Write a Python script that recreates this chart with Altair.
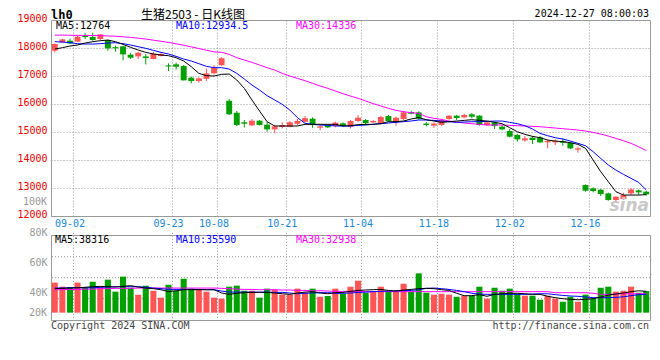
import altair as alt
import pandas as pd

# ---------------- data ----------------
dates = [
    "2024-08-29", "2024-08-30",
    "2024-09-02", "2024-09-03", "2024-09-04", "2024-09-05", "2024-09-06",
    "2024-09-09", "2024-09-10", "2024-09-11", "2024-09-12", "2024-09-13",
    "2024-09-18", "2024-09-19", "2024-09-20", "2024-09-23", "2024-09-24",
    "2024-09-25", "2024-09-26", "2024-09-27", "2024-09-30",
    "2024-10-08", "2024-10-09", "2024-10-10", "2024-10-11", "2024-10-14",
    "2024-10-15", "2024-10-16", "2024-10-17", "2024-10-18", "2024-10-21",
    "2024-10-22", "2024-10-23", "2024-10-24", "2024-10-25", "2024-10-28",
    "2024-10-29", "2024-10-30", "2024-10-31", "2024-11-01",
    "2024-11-04", "2024-11-05", "2024-11-06", "2024-11-07", "2024-11-08",
    "2024-11-11", "2024-11-12", "2024-11-13", "2024-11-14", "2024-11-15",
    "2024-11-18", "2024-11-19", "2024-11-20", "2024-11-21", "2024-11-22",
    "2024-11-25", "2024-11-26", "2024-11-27", "2024-11-28", "2024-11-29",
    "2024-12-02", "2024-12-03", "2024-12-04", "2024-12-05", "2024-12-06",
    "2024-12-09", "2024-12-10", "2024-12-11", "2024-12-12", "2024-12-13",
    "2024-12-16", "2024-12-17", "2024-12-18", "2024-12-19", "2024-12-20",
    "2024-12-23", "2024-12-24", "2024-12-25", "2024-12-26",
]
opens = [17904, 18201, 18260, 18225, 18430, 18392, 18320, 18284, 18030, 18058,
         17761, 17701, 17700, 17606, 17713, 17380, 17416, 17356, 16939, 16820,
         16900, 17094, 17380, 16118, 15690, 15344, 15237, 15404, 15261, 15094,
         15178, 15190, 15297, 15368, 15475, 15154, 15237, 15213, 15309, 15190,
         15392, 15427, 15344, 15309, 15570, 15344, 15463, 15713, 15700, 15300,
         15230, 15249, 15463, 15582, 15523, 15630, 15582, 15249, 15332, 15189,
         15035, 14892, 14701, 14796, 14808, 14630, 14630, 14677, 14618, 14368,
         13106, 12987, 12939, 12808, 12570, 12606, 12808, 12915, 12868]
highs = [18165, 18332, 18332, 18440, 18534, 18546, 18499, 18296, 18082, 18082,
         17820, 17856, 17785, 17868, 17844, 17451, 17475, 17392, 16975, 16951,
         17273, 17392, 17666, 16178, 15749, 15427, 15463, 15427, 15368, 15249,
         15344, 15392, 15463, 15570, 15523, 15237, 15273, 15368, 15344, 15427,
         15606, 15463, 15427, 15582, 15606, 15547, 15749, 15761, 15740, 15350,
         15340, 15460, 15600, 15606, 15654, 15677, 15606, 15370, 15370, 15249,
         15106, 14940, 14856, 14856, 14856, 14737, 14737, 14773, 14654, 14475,
         13130, 13023, 12963, 12832, 12713, 12832, 12987, 12951, 12903]
lows = [17844, 18189, 18141, 18213, 18320, 18260, 18273, 17904, 17868, 17558,
        17606, 17606, 17416, 17594, 17701, 17177, 17225, 16844, 16737, 16761,
        16820, 17059, 17368, 15606, 15213, 15166, 15213, 15237, 15011, 14951,
        15130, 15166, 15237, 15344, 15154, 15059, 15142, 15166, 15190, 15130,
        15356, 15249, 15320, 15273, 15368, 15225, 15427, 15630, 15440, 15200,
        15150, 15220, 15440, 15427, 15487, 15487, 15225, 15220, 15106, 15070,
        14808, 14654, 14654, 14570, 14606, 14415, 14535, 14510, 14392, 14260,
        12868, 12844, 12713, 12546, 12510, 12570, 12749, 12749, 12725]
closes = [18142, 18308, 18165, 18403, 18390, 18285, 18487, 17987, 17990, 17773,
          17654, 17832, 17640, 17796, 17785, 17340, 17332, 16844, 16820, 16915,
          17094, 17296, 17630, 15630, 15249, 15297, 15404, 15249, 15094, 15201,
          15249, 15344, 15392, 15487, 15285, 15201, 15166, 15332, 15213, 15392,
          15511, 15320, 15392, 15535, 15392, 15511, 15701, 15654, 15480, 15250,
          15300, 15427, 15582, 15499, 15606, 15546, 15249, 15344, 15213, 15094,
          14832, 14737, 14773, 14713, 14630, 14677, 14677, 14620, 14415, 14415,
          12903, 12891, 12784, 12570, 12689, 12749, 12951, 12844, 12773]
volumes = [46700, 44000, 43800, 46700, 43300, 47300, 43800, 48700, 40700, 50700,
           43300, 38700, 44700, 41300, 36700, 45300, 41300, 49300, 42700, 42000,
           40700, 36700, 36000, 44000, 44700, 41300, 41300, 36700, 42700, 42000,
           38700, 38700, 42700, 40000, 42700, 37300, 37800, 42700, 39300, 44000,
           48000, 40000, 40700, 44000, 40700, 40700, 46000, 40700, 52900, 40000,
           38700, 39300, 38700, 37300, 38000, 38000, 44000, 36000, 43300, 41300,
           42700, 39300, 38000, 38000, 35300, 38000, 36000, 34000, 37300, 34000,
           38700, 36000, 43300, 44000, 40700, 41300, 44000, 40000, 41100]
ma5 = [17963, 18011, 18070, 18106, 18177, 18225, 18261, 18284, 18225, 18130,
       18023, 17927, 17844, 17785, 17749, 17725, 17654, 17535, 17333, 17095,
       17011, 17000, 17059, 17071, 16857, 16559, 16143, 15750, 15369, 15214,
       15214, 15214, 15214, 15274, 15274, 15274, 15274, 15274, 15214, 15226,
       15262, 15274, 15274, 15298, 15369, 15369, 15393, 15464, 15512, 15439,
       15391, 15344, 15368, 15391, 15415, 15439, 15415, 15391, 15344, 15296,
       15153, 15010, 14915, 14844, 14796, 14713, 14677, 14653, 14618, 14558,
       14415, 14000, 13582, 13225, 12868, 12748, 12748, 12748, 12764]
ma10 = [18225, 18213, 18189, 18154, 18142, 18142, 18154, 18177, 18189, 18154,
        18106, 18047, 17987, 17916, 17844, 17785, 17701, 17606, 17535, 17440,
        17345, 17297, 17297, 17249, 17094, 16892, 16678, 16500, 16297, 16143,
        15988, 15785, 15512, 15310, 15274, 15250, 15238, 15214, 15214, 15214,
        15238, 15250, 15274, 15298, 15321, 15345, 15369, 15393, 15429, 15427,
        15415, 15391, 15368, 15344, 15356, 15368, 15368, 15380, 15391, 15391,
        15344, 15296, 15225, 15106, 14951, 14868, 14796, 14748, 14677, 14594,
        14510, 14296, 14058, 13820, 13641, 13487, 13344, 13201, 12935]
ma30 = [18460, 18460, 18455, 18450, 18450, 18445, 18440, 18430, 18420, 18400,
        18380, 18350, 18320, 18280, 18240, 18200, 18150, 18100, 18040, 17980,
        17920, 17860, 17844, 17773, 17654, 17570, 17487, 17392, 17297, 17213,
        17094, 17000, 16916, 16833, 16737, 16642, 16559, 16464, 16369, 16285,
        16202, 16107, 16012, 15928, 15845, 15774, 15726, 15690, 15666, 15546,
        15487, 15451, 15391, 15356, 15320, 15296, 15272, 15249, 15249, 15249,
        15237, 15225, 15213, 15201, 15189, 15165, 15141, 15118, 15094, 15070,
        15034, 14987, 14927, 14856, 14772, 14689, 14594, 14475, 14336]
vol_ma5 = [42700, 42900, 43100, 43300, 43600, 44000, 44200, 44000, 43800, 44200,
           44700, 43800, 43100, 42700, 42000, 40700, 41300, 42000, 42000, 42000,
           42000, 42000, 39800, 38900, 39600, 40000, 40200, 40200, 40200, 39800,
           39300, 38900, 39800, 40400, 40700, 39800, 39300, 40000, 40200, 40900,
           41500, 41800, 42000, 42200, 41500, 41100, 41800, 42200, 42700, 42900,
           42700, 42000, 41500, 39600, 38000, 38000, 38700, 37600, 38900, 39300,
           39600, 39600, 39300, 38900, 38900, 37600, 36700, 36000, 35600, 35300,
           35600, 36000, 37100, 38400, 39100, 39800, 40700, 41300, 40900]
vol_ma10 = [43100, 43100, 43300, 43300, 43300, 43300, 43600, 43800, 44000, 44000,
            44000, 44000, 43600, 43100, 42700, 42200, 42200, 42200, 42200, 42200,
            42000, 42000, 41100, 40400, 40400, 40400, 40400, 40400, 40400, 40200,
            40200, 39800, 39300, 39600, 39800, 40000, 40000, 39600, 39600, 39800,
            40200, 40400, 40700, 40900, 41100, 41300, 41300, 41500, 42000, 42900,
            43100, 42700, 42200, 41500, 40700, 39600, 39100, 38900, 38900, 38900,
            38900, 38900, 38900, 39100, 39300, 39300, 38700, 38200, 37800, 37600,
            37100, 36700, 36700, 36700, 36900, 37300, 38000, 38700, 38900]
vol_ma30 = [42000, 42000, 42200, 42200, 42400, 42400, 42700, 42700, 42900, 42900,
            42900, 43100, 43100, 43100, 43100, 43100, 43100, 43100, 43100, 43100,
            43100, 43100, 42900, 42700, 42400, 42200, 42200, 42000, 42000, 42000,
            41800, 41800, 41500, 41500, 41300, 41300, 41100, 40900, 40900, 40900,
            40900, 40700, 40700, 40700, 40700, 40700, 40700, 40700, 40700, 40700,
            40700, 40700, 40700, 40700, 40700, 40700, 40700, 40700, 40700, 40700,
            40700, 40700, 40700, 40700, 40700, 40700, 40000, 40000, 40000, 40000,
            40000, 39600, 38900, 38900, 39100, 39300, 39300, 39300, 39300]

label_dates = ["2024-09-02", "2024-09-23", "2024-10-08", "2024-10-21",
               "2024-11-04", "2024-11-18", "2024-12-02", "2024-12-16"]
price_ticks = [12000, 13000, 14000, 15000, 16000, 17000, 18000, 19000]
vol_ticks = [40000, 60000, 80000]
vol_grid = [36000, 50000, 64000]

price_header = ["MA5:12764", "MA10:12934.5", "MA30:14336"]
vol_header = ["MA5:38316", "MA10:35590", "MA30:32938"]
vol_extra_labels = ["100K", "20K"]
title_texts = ["lh0", "生猪2503 - 日K线图", "2024-12-27 08:00:03"]
footer_texts = ["Copyright 2024 SINA.COM", "http://finance.sina.com.cn"]

# ---------------- style ----------------
RED = "#ff5555"
GREEN = "#00a000"
BLUE = "#0000ff"
MAGENTA = "#ff00ff"
GRID = "#999999"
MONO = "DejaVu Sans Mono"
CJK = "Noto Sans CJK SC"
W, H_PRICE, H_VOL = 599, 196, 85

df = pd.DataFrame(dict(date=dates, open=opens, high=highs, low=lows,
                       close=closes, volume=volumes, ma5=ma5, ma10=ma10,
                       ma30=ma30, vma5=vol_ma5, vma10=vol_ma10, vma30=vol_ma30))

xscale = alt.Scale(domain=dates, paddingInner=0, paddingOuter=0)


def make_x_axis(show_labels):
    return alt.Axis(values=label_dates, labelExpr="substring(datum.value, 5)",
                    bandPosition=1, grid=True, gridColor=GRID,
                    gridDash=[1, 2], ticks=False, domain=False,
                    labels=show_labels, labelAngle=0, labelColor="#1a88d8",
                    labelFont=MONO, labelFontSize=10, labelPadding=2,
                    title=None)


price_y_axis = alt.Axis(values=price_ticks, format="d", grid=True,
                        gridColor=GRID, gridDash=[1, 2], ticks=False,
                        domain=False, labelColor="#ee0000", labelFont=MONO,
                        labelFontSize=10, labelPadding=4, labelOffset=-2,
                        labelFlush=False, labelOverlap=False, title=None)
vol_y_axis = alt.Axis(values=vol_ticks, labelExpr="datum.value / 1000 + 'K'",
                      grid=False, ticks=False, domain=False,
                      labelColor="#999999", labelFont=MONO, labelFontSize=10,
                      labelPadding=4, labelFlush=False, labelOverlap=False,
                      title=None)

color_rule = alt.when(alt.datum.close >= alt.datum.open).then(
    alt.value(RED)).otherwise(alt.value(GREEN))


def text_layer(t, x, y, color, size=10, align="left", font=MONO,
               weight="normal", style="normal"):
    return alt.Chart(pd.DataFrame({"t": [t]})).mark_text(
        align=align, baseline="middle", font=font, fontSize=size,
        color=color, fontWeight=weight, fontStyle=style
    ).encode(text="t:N", x=alt.value(x), y=alt.value(y))


base = alt.Chart(df)

# ---------------- price panel ----------------
py = alt.Scale(domain=[12000, 19000], nice=False, zero=False)
px_axis = make_x_axis(True)


def px(field):
    return alt.Y(f"{field}:Q", scale=py, axis=price_y_axis)


xp = alt.X("date:O", scale=xscale, axis=px_axis)

wicks = base.mark_rule(strokeWidth=1).encode(
    x=xp, y=px("low"), y2="high:Q", color=color_rule)
bodies = base.mark_bar(width=alt.RelativeBandSize(0.78)).encode(
    x=xp, y=px("open"), y2="close:Q", color=color_rule)
price_lines = [
    base.mark_line(strokeWidth=1, color=c).encode(x=xp, y=px(f))
    for f, c in (("ma30", MAGENTA), ("ma10", BLUE), ("ma5", "#000000"))
]

price = alt.layer(
    wicks, bodies, *price_lines,
    text_layer(price_header[0], 5, 6, "#000000"),
    text_layer(price_header[1], 125, 6, BLUE),
    text_layer(price_header[2], 245, 6, MAGENTA),
    text_layer(title_texts[0], 0, -5, "#000000", size=12, weight="bold"),
    text_layer(title_texts[1], 90, -5, "#000000", size=12, font=CJK),
    text_layer(title_texts[2], 598, -6, "#000000", align="right"),
    text_layer("sina", 598, 186, "#c8c8c8", size=17, align="right",
               font="DejaVu Sans", weight="bold", style="italic"),
).properties(width=W, height=H_PRICE)

# ---------------- volume panel ----------------
vy = alt.Scale(domain=[20000, 80000], range=[87.7, -2.3], nice=False,
               zero=False)
xv = alt.X("date:O", scale=xscale, axis=make_x_axis(False))


def vy_enc(field):
    return alt.Y(f"{field}:Q", scale=vy, axis=vol_y_axis)


vbars = base.mark_bar(width=alt.RelativeBandSize(0.8)).encode(
    x=xv, y=vy_enc("volume"), y2=alt.datum(26700), color=color_rule)
vgrid = alt.Chart(pd.DataFrame({"g": vol_grid})).mark_rule(
    color=GRID, strokeDash=[1, 2], strokeWidth=1
).encode(y=vy_enc("g"))
vol_lines = [
    base.mark_line(strokeWidth=1, color=c).encode(x=xv, y=vy_enc(f))
    for f, c in (("vma30", MAGENTA), ("vma10", BLUE), ("vma5", "#000000"))
]

volume = alt.layer(
    vgrid, vbars, *vol_lines,
    text_layer(vol_header[0], 4, 5, "#000000"),
    text_layer(vol_header[1], 125, 5, BLUE),
    text_layer(vol_header[2], 245, 5, MAGENTA),
    text_layer(vol_extra_labels[0], -4, -33, "#999999", align="right"),
    text_layer(vol_extra_labels[1], -4, 78, "#999999", align="right"),
    text_layer(footer_texts[0], 0, 91, "#444444"),
    text_layer(footer_texts[1], 598, 91, "#444444", align="right"),
).properties(width=W, height=H_VOL)

chart = alt.vconcat(price, volume, spacing=19, bounds="flush").properties(
    padding={"left": 8, "top": 0, "right": 0, "bottom": 0}
).configure(font=MONO, background="#ffffff").configure_view(
    stroke="#999999", strokeWidth=1)

chart.save("out.html", embed_options={"renderer": "svg", "actions": False})
